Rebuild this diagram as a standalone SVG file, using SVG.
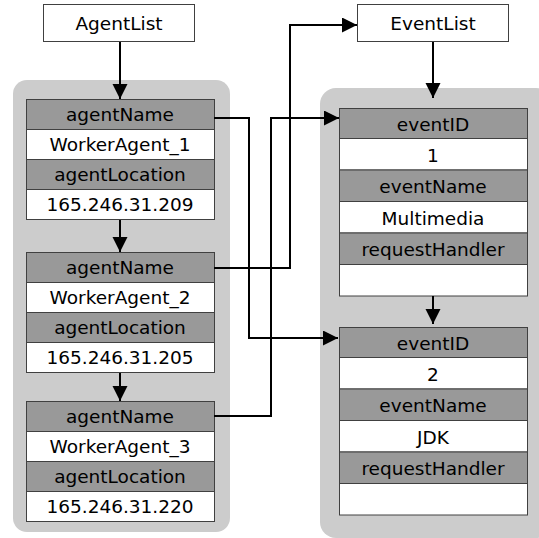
<svg xmlns="http://www.w3.org/2000/svg" width="539" height="538" viewBox="0 0 539 538">
  <style>
    .panel { fill: #cccccc; stroke: none; }
    .box { fill: #ffffff; stroke: #404040; stroke-width: 1; }
    .key { fill: #999999; stroke: #404040; stroke-width: 1; }
    .val { fill: #ffffff; stroke: #404040; stroke-width: 1; }
    text { font-family: "DejaVu Sans", "Liberation Sans", sans-serif; font-size: 18.5px; fill: #000000; text-anchor: middle; }
    .link { fill: none; stroke: #000000; stroke-width: 2; }
  </style>
  <defs>
    <marker id="arrow" markerUnits="userSpaceOnUse" markerWidth="16" markerHeight="16" refX="15" refY="7.5" orient="auto">
      <path d="M0,0 L15,7.5 L0,15 Z" fill="#000000"/>
    </marker>
  </defs>

  <!-- container panels -->
  <g id="agent-panel">
    <rect class="panel" x="13" y="80" width="217" height="452" rx="14"/>
  </g>
  <g id="event-panel">
    <rect class="panel" x="320" y="88" width="232" height="450" rx="16"/>
  </g>

  <!-- list heads -->
  <g id="agent-list">
    <rect class="box" x="43.5" y="4.5" width="151" height="37"/>
    <text x="119" y="30">AgentList</text>
  </g>
  <g id="event-list">
    <rect class="box" x="357.5" y="4.5" width="151" height="37"/>
    <text x="433" y="30">EventList</text>
  </g>

  <!-- agent records -->
  <g id="agent1">
    <rect class="key" x="26.5" y="99.5" width="188" height="30"/>
    <rect class="val" x="26.5" y="129.5" width="188" height="30"/>
    <rect class="key" x="26.5" y="159.5" width="188" height="30"/>
    <rect class="val" x="26.5" y="189.5" width="188" height="30"/>
    <text x="120" y="121">agentName</text>
    <text x="120" y="151">WorkerAgent_1</text>
    <text x="120" y="181">agentLocation</text>
    <text x="120" y="211">165.246.31.209</text>
  </g>
  <g id="agent2">
    <rect class="key" x="26.5" y="252.5" width="188" height="30"/>
    <rect class="val" x="26.5" y="282.5" width="188" height="30"/>
    <rect class="key" x="26.5" y="312.5" width="188" height="30"/>
    <rect class="val" x="26.5" y="342.5" width="188" height="30"/>
    <text x="120" y="274">agentName</text>
    <text x="120" y="304">WorkerAgent_2</text>
    <text x="120" y="334">agentLocation</text>
    <text x="120" y="364">165.246.31.205</text>
  </g>
  <g id="agent3">
    <rect class="key" x="26.5" y="401.5" width="188" height="30"/>
    <rect class="val" x="26.5" y="431.5" width="188" height="30"/>
    <rect class="key" x="26.5" y="461.5" width="188" height="30"/>
    <rect class="val" x="26.5" y="491.5" width="188" height="30"/>
    <text x="120" y="423">agentName</text>
    <text x="120" y="453">WorkerAgent_3</text>
    <text x="120" y="483">agentLocation</text>
    <text x="120" y="513">165.246.31.220</text>
  </g>

  <!-- event records -->
  <g id="event1">
    <rect class="key" x="339.5" y="108.5" width="188" height="30"/>
    <rect class="val" x="339.5" y="138.5" width="188" height="31.5"/>
    <rect class="key" x="339.5" y="170" width="188" height="31.5"/>
    <rect class="val" x="339.5" y="201.5" width="188" height="31.5"/>
    <rect class="key" x="339.5" y="233" width="188" height="31.5"/>
    <rect class="val" x="339.5" y="264.5" width="188" height="31.5"/>
    <text x="433" y="130.5">eventID</text>
    <text x="433" y="161.5">1</text>
    <text x="433" y="193">eventName</text>
    <text x="433" y="224.5">Multimedia</text>
    <text x="433" y="256">requestHandler</text>
  </g>
  <g id="event2">
    <rect class="key" x="339.5" y="327.5" width="188" height="30"/>
    <rect class="val" x="339.5" y="357.5" width="188" height="31.5"/>
    <rect class="key" x="339.5" y="389" width="188" height="31.5"/>
    <rect class="val" x="339.5" y="420.5" width="188" height="31.5"/>
    <rect class="key" x="339.5" y="452" width="188" height="31.5"/>
    <rect class="val" x="339.5" y="483.5" width="188" height="31.5"/>
    <text x="433" y="349.5">eventID</text>
    <text x="433" y="380.5">2</text>
    <text x="433" y="412">eventName</text>
    <text x="433" y="443.5">JDK</text>
    <text x="433" y="475">requestHandler</text>
  </g>

  <!-- connectors -->
  <g id="connectors">
    <path class="link" d="M120,42 V99" marker-end="url(#arrow)"/>
    <path class="link" d="M120,220 V252" marker-end="url(#arrow)"/>
    <path class="link" d="M120,373 V401" marker-end="url(#arrow)"/>
    <path class="link" d="M433,42 V98" marker-end="url(#arrow)"/>
    <path class="link" d="M433,296 V324" marker-end="url(#arrow)"/>
    <path class="link" d="M214,118 H249 V338 H338" marker-end="url(#arrow)"/>
    <path class="link" d="M214,268 H290 V25 H357" marker-end="url(#arrow)"/>
    <path class="link" d="M214,416 H271 V118 H339" marker-end="url(#arrow)"/>
  </g>
</svg>
